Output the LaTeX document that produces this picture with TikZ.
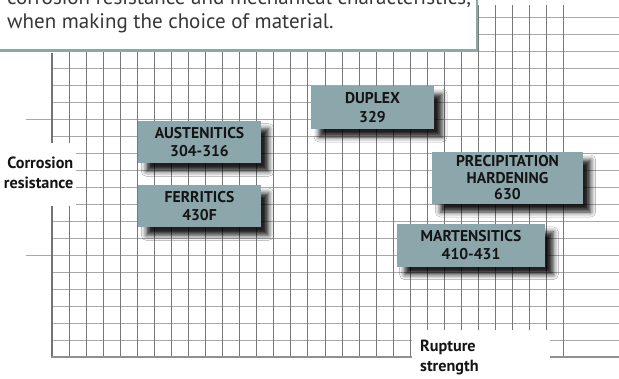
\documentclass[tikz,border=0pt]{standalone}
\usepackage{fontspec}
\setmainfont{PT Sans}
\usetikzlibrary{shadows.blur}
\definecolor{boxfill}{RGB}{139,167,172}
\definecolor{hline}{RGB}{168,168,168}
\definecolor{vline}{RGB}{120,120,120}
\definecolor{axisl}{RGB}{115,115,115}
\definecolor{axisb}{RGB}{145,145,145}
\definecolor{txt}{RGB}{20,20,20}
\tikzset{
  grade/.style={fill=boxfill, inner sep=0pt, align=center, text=txt,
    font=\fontsize{15.6}{18.4}\selectfont\bfseries,
    blur shadow={shadow xshift=8pt, shadow yshift=-8pt, shadow blur radius=5pt, shadow opacity=88}},
  axislabel/.style={inner sep=0pt, text=txt, font=\fontsize{16.2}{19.5}\selectfont\bfseries},
  hgrid/.style={draw=hline, line width=1.3pt},
  vgrid/.style={draw=vline, line width=1pt},
}
\begin{document}
\begin{tikzpicture}[x=1pt,y=-1pt]
\clip (0,0) rectangle (619,378);
\fill[white] (0,0) rectangle (619,378);
% grid
\foreach \k in {0,...,19} {
  \draw[hgrid] (52,{17.3+17.0*\k}) -- (619,{17.3+17.0*\k});
}
\foreach \k in {1,...,30} {
  \draw[vgrid] ({52.2+17.05*\k},5) -- ({52.2+17.05*\k},357.3);
}
\draw[hgrid, line width=1pt] (26,119.3) -- (52,119.3);
\draw[hgrid, line width=1pt] (26,255.3) -- (52,255.3);
% axes
\draw[draw=axisl, line width=2.2pt] (52.2,53) -- (52.2,358.3);
\draw[draw=axisb, line width=2pt] (51.1,357.3) -- (619,357.3);
% label backgrounds
\fill[white] (0,142.5) rectangle (75.5,205.5);
\fill[white] (411.6,330) rectangle (550,380);
% text box
\draw[draw=boxfill, fill=white, line width=2.8pt] (-10,-10) rectangle (477,50.8);
\node[anchor=base west, inner sep=0pt, text=txt!85, font=\fontsize{21}{24}\selectfont] (intro1) at (7,4.3) {corrosion resistance and mechanical characteristics,};
\node[anchor=base west, inner sep=0pt, text=txt!85, font=\fontsize{21}{24}\selectfont] (intro2) at (7,28.3) {when making the choice of material.};
% axis labels
\node[axislabel, anchor=east, align=right] (corr) at (73.5,173) {Corrosion\\resistance};
\node[axislabel, anchor=west, align=left] (rupt) at (420,357.5) {Rupture\\strength};
% grade boxes
\node[grade, minimum width=122.4pt, minimum height=42.6pt] (aus) at (199.5,142) {AUSTENITICS\\304-316};
\node[grade, minimum width=122.4pt, minimum height=42.3pt] (fer) at (199.5,206.2) {FERRITICS\\430F};
\node[grade, minimum width=123pt, minimum height=43pt] (dup) at (372.5,107.5) {DUPLEX\\329};
\node[grade, minimum width=150.4pt, minimum height=52pt, font=\fontsize{15.6}{16.5}\selectfont\bfseries] (pre) at (507.5,178) {PRECIPITATION\\HARDENING\\630};
\node[grade, minimum width=148.6pt, minimum height=42.7pt] (mar) at (471,245.3) {MARTENSITICS\\410-431};
\end{tikzpicture}
\end{document}
